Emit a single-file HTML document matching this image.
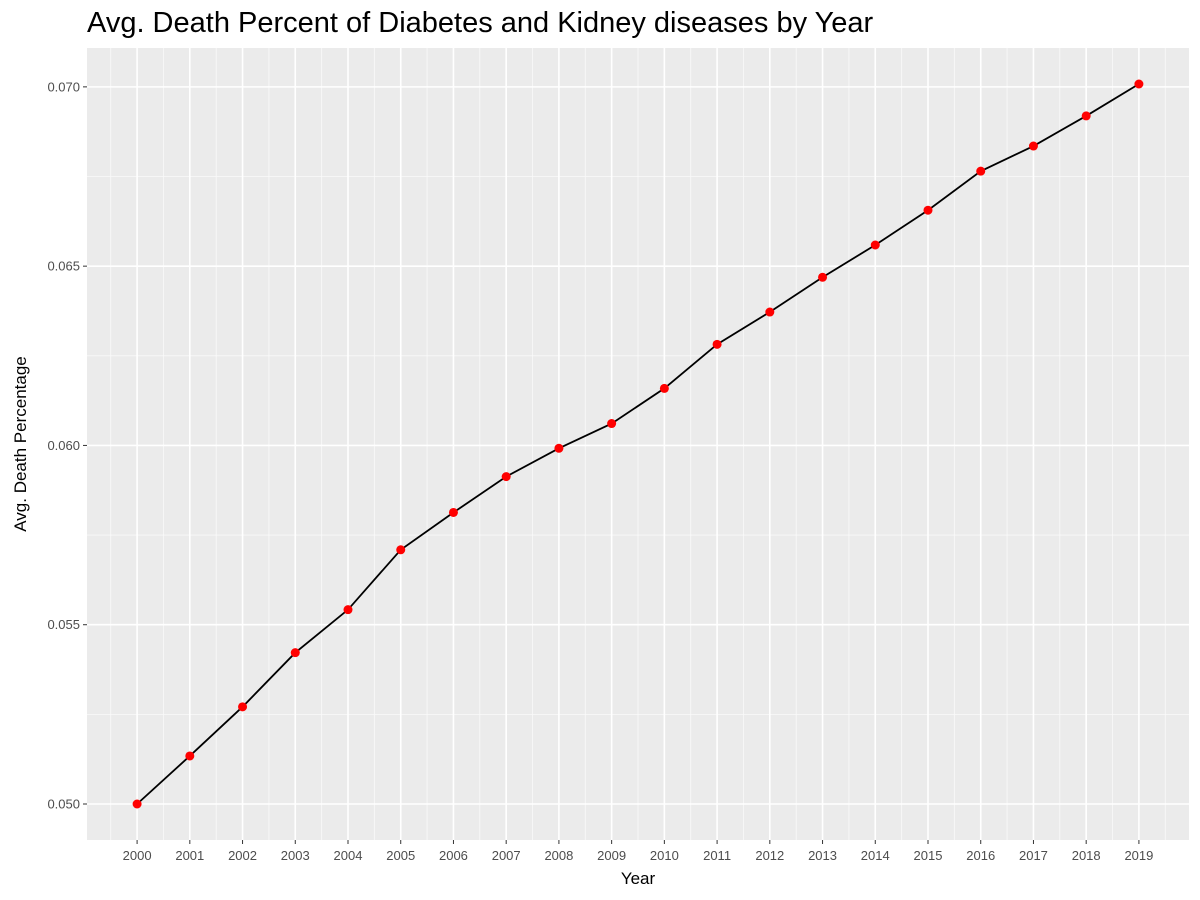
<!DOCTYPE html>
<html><head><meta charset="utf-8"><style>
body{margin:0;background:#fff;}
svg{display:block;font-family:"Liberation Sans",Arial,sans-serif;}
</style></head><body>
<svg id="chart" width="1200" height="900">
<text x="87" y="32" font-size="29" fill="#000">Avg. Death Percent of Diabetes and Kidney diseases by Year</text>
<rect x="87" y="48" width="1102" height="792" fill="#ebebeb"/>
<g id="grid"></g>
<g id="series"></g>
<g id="axes"></g>
<text x="638" y="884" font-size="17" text-anchor="middle" fill="#000">Year</text>
<text transform="translate(26,444) rotate(-90)" font-size="17" text-anchor="middle" fill="#000">Avg. Death Percentage</text>
</svg>
<script>
const years = [2000,2001,2002,2003,2004,2005,2006,2007,2008,2009,2010,2011,2012,2013,2014,2015,2016,2017,2018,2019];
const deathPct = [0.0500,0.05134,0.05271,0.05422,0.05542,0.05709,0.05813,0.05913,0.05992,0.06061,0.06159,0.06282,0.06372,0.06469,0.06559,0.06656,0.06765,0.06835,0.06919,0.07008];
const yTicks = [0.050,0.055,0.060,0.065,0.070];
const yTickLabels = ["0.050","0.055","0.060","0.065","0.070"];

const NS="http://www.w3.org/2000/svg";
const pL=87,pR=1189,pT=48,pB=840;
const xMin=Math.min(...years),xMax=Math.max(...years);
const xPad=(xMax-xMin)*0.05;
const yMinD=Math.min(...deathPct),yMaxD=Math.max(...deathPct);
const yPad=(yMaxD-yMinD)*0.05;
const x=v=>pL+(v-(xMin-xPad))/((xMax+xPad)-(xMin-xPad))*(pR-pL);
const y=v=>pB-(v-(yMinD-yPad))/((yMaxD+yPad)-(yMinD-yPad))*(pB-pT);
function mk(tag,attrs,parent){const e=document.createElementNS(NS,tag);for(const k in attrs)e.setAttribute(k,attrs[k]);parent.appendChild(e);return e;}
const grid=document.getElementById('grid'),axes=document.getElementById('axes'),series=document.getElementById('series');
for(let i=0;i<years.length-1;i++){const xm=x((years[i]+years[i+1])/2);
 const l=mk('line',{x1:xm,x2:xm,y1:pT,y2:pB,stroke:'#fafafa','stroke-width':0.8},grid);
 
 }
{const e=mk('line',{x1:x(xMin-0.5),x2:x(xMin-0.5),y1:pT,y2:pB,stroke:'#fafafa','stroke-width':0.8},grid);
 
 
 const f=mk('line',{x1:x(xMax+0.5),x2:x(xMax+0.5),y1:pT,y2:pB,stroke:'#fafafa','stroke-width':0.8},grid);
 
 }
for(let i=0;i<yTicks.length-1;i++){const ym=y((yTicks[i]+yTicks[i+1])/2);
 const l=mk('line',{x1:pL,x2:pR,y1:ym,y2:ym,stroke:'#fafafa','stroke-width':0.8},grid);
 
 }
years.forEach(v=>{const xv=x(v);
 const l=mk('line',{x1:xv,x2:xv,y1:pT,y2:pB,stroke:'#fff','stroke-width':1.6},grid);
 
 
 const t=mk('line',{x1:xv,x2:xv,y1:pB,y2:pB+4,stroke:'#333','stroke-width':1},axes);
 
 
 const tx=mk('text',{x:xv,y:pB+20,'font-size':13,fill:'#4d4d4d','text-anchor':'middle'},axes);tx.textContent=v;
 
 });
yTicks.forEach((v,i)=>{const yv=y(v);
 const l=mk('line',{x1:pL,x2:pR,y1:yv,y2:yv,stroke:'#fff','stroke-width':1.6},grid);
 
 
 const t=mk('line',{x1:pL-4,x2:pL,y1:yv,y2:yv,stroke:'#333','stroke-width':1},axes);
 
 
 const tx=mk('text',{x:pL-7,y:yv+4.5,'font-size':13,fill:'#4d4d4d','text-anchor':'end'},axes);tx.textContent=yTickLabels[i];
 
 });
const pl=mk('polyline',{points:years.map((v,i)=>x(v)+','+y(deathPct[i])).join(' '),fill:'none',stroke:'#000','stroke-width':1.8},series);


years.forEach((v,i)=>{const c=mk('circle',{cx:x(v),cy:y(deathPct[i]),r:4.5,fill:'#ff0000'},series);
 
 });
</script>
</body></html>
